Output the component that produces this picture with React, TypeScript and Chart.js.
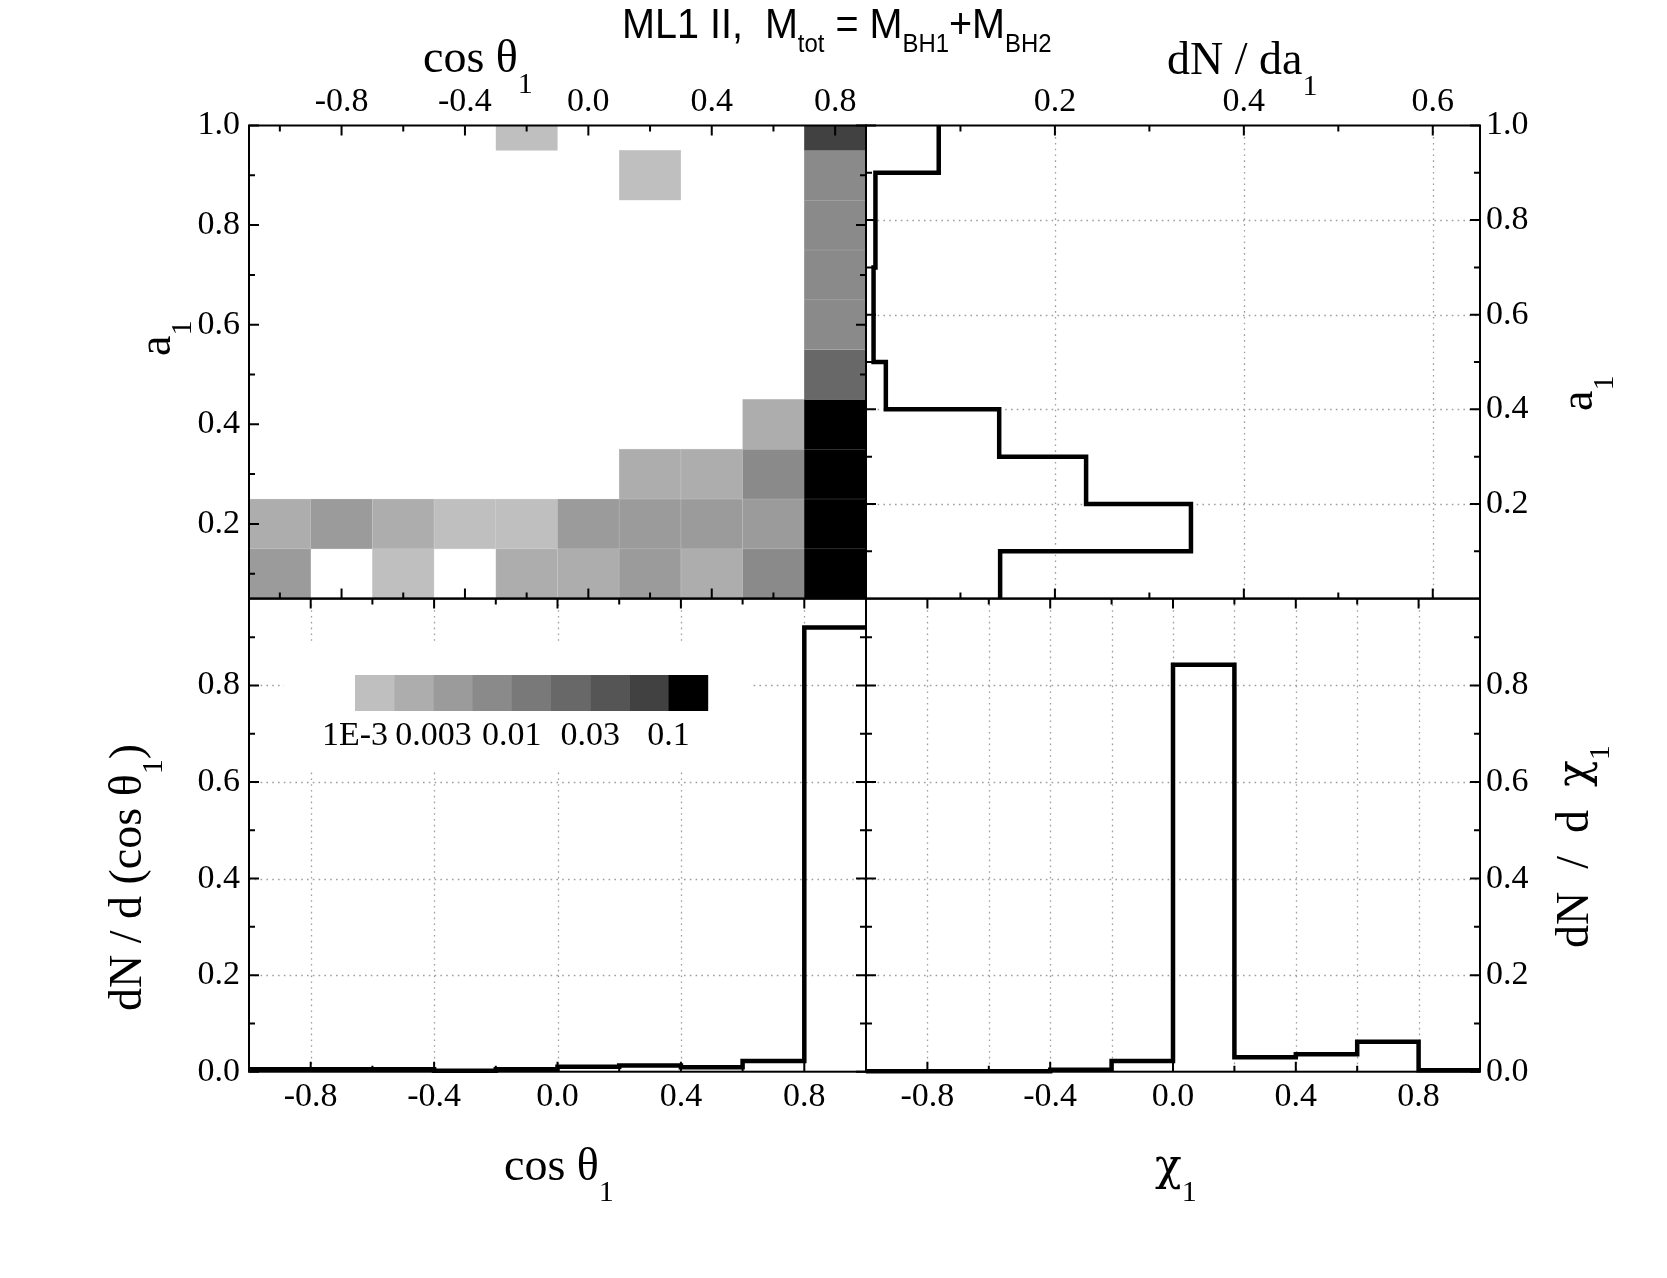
import React, { useEffect, useRef } from 'react';
import { Chart, registerables } from 'chart.js';

Chart.register(...registerables);

// ---------------- data ----------------
// heat map: cell centres
const cosCenters = [-1.0, -0.8, -0.6, -0.4, -0.2, 0.0, 0.2, 0.4, 0.6, 0.8];
const a1Centers = [0.1, 0.2, 0.3, 0.4, 0.5, 0.6, 0.7, 0.8, 0.9, 1.0];
// fraction of systems per cell, rows follow a1Centers, columns follow cosCenters
const heatRow01 = [0.004, 0, 0.0013, 0, 0.0024, 0.0024, 0.004, 0.0024, 0.0075, 0.2];
const heatRow02 = [0.0024, 0.004, 0.0024, 0.0013, 0.0013, 0.004, 0.004, 0.004, 0.004, 0.2];
const heatRow03 = [0, 0, 0, 0, 0, 0, 0.0024, 0.0024, 0.0075, 0.2];
const heatRow04 = [0, 0, 0, 0, 0, 0, 0, 0, 0.0024, 0.15];
const heatRow05 = [0, 0, 0, 0, 0, 0, 0, 0, 0, 0.024];
const heatRow06 = [0, 0, 0, 0, 0, 0, 0, 0, 0, 0.0075];
const heatRow07 = [0, 0, 0, 0, 0, 0, 0, 0, 0, 0.0075];
const heatRow08 = [0, 0, 0, 0, 0, 0, 0, 0, 0, 0.0075];
const heatRow09 = [0, 0, 0, 0, 0, 0, 0.0013, 0, 0, 0.0075];
const heatRow10 = [0, 0, 0, 0, 0.0013, 0, 0, 0, 0, 0.075];
const heatValues = [heatRow01, heatRow02, heatRow03, heatRow04, heatRow05, heatRow06, heatRow07, heatRow08, heatRow09, heatRow10];

// colour scale
const colorBounds = [0.001, 0.00178, 0.00316, 0.00562, 0.01, 0.0178, 0.0316, 0.0562, 0.1];
const grayLevels = ['#bfbfbf', '#adadad', '#9b9b9b', '#8a8a8a', '#797979', '#686868', '#555555', '#414141', '#000000'];
const colorbarLabels = ['1E-3', '0.003', '0.01', '0.03', '0.1'];
const colorbarLabelSlots = [0, 2, 4, 6, 8];

// dN/da1 histogram
const a1Edges = [0, 0.1, 0.2, 0.3, 0.4, 0.5, 0.6, 0.7, 0.8, 0.9, 1.0];
const dNda1 = [0.142, 0.344, 0.233, 0.141, 0.021, 0.008, 0.008, 0.010, 0.010, 0.077];

// dN/d(cos theta1) histogram
const cosEdges = [-1.0, -0.8, -0.6, -0.4, -0.2, 0.0, 0.2, 0.4, 0.6, 0.8, 1.0];
const dNdcos = [0.005, 0.005, 0.005, 0.002, 0.005, 0.010, 0.013, 0.009, 0.022, 0.920];

// dN/d chi1 histogram
const chiEdges = [-1.0, -0.8, -0.6, -0.4, -0.2, 0.0, 0.2, 0.4, 0.6, 0.8, 1.0];
const dNdchi = [0.001, 0.001, 0.001, 0.004, 0.022, 0.843, 0.030, 0.036, 0.062, 0.003];

// tick values
const cosTopMajor = [-0.8, -0.4, 0, 0.4, 0.8];
const cosTopMinor = [-1.0, -0.6, -0.2, 0.2, 0.6];
const a1Major = [0.2, 0.4, 0.6, 0.8, 1.0];
const a1Minor = [0.1, 0.3, 0.5, 0.7, 0.9];
const dNda1Major = [0.2, 0.4, 0.6];
const dNda1Minor = [0.1, 0.3, 0.5];
const xBottomMajor = [-0.8, -0.4, 0, 0.4, 0.8];
const xBottomMinor = [-0.6, -0.2, 0.2, 0.6];
const dNMajor = [0, 0.2, 0.4, 0.6, 0.8];
const dNMinor = [0.1, 0.3, 0.5, 0.7, 0.9];
const gridDN = [0.2, 0.4, 0.6, 0.8];
const gridChiX = [-0.8, -0.6, -0.4, -0.2, 0, 0.2, 0.4, 0.6, 0.8];

// ---------------- layout ----------------
const SERIF = "'Liberation Serif', 'Times New Roman', serif";
const GREEK = "'DejaVu Serif', 'Liberation Serif', serif";
const SANS = "'Liberation Sans', Arial, sans-serif";
const TICK_FONT = { family: SERIF, size: 34 };
const W = 1667, H = 1278;
const XL = 249, XM = 866, XR = 1480;
const YT = 125.5, YM = 598.6, YB = 1071.7;
const AXW = 120, AXH = 60;

function levelFor(v: number) {
  let idx = -1;
  colorBounds.forEach((b, i) => { if (v >= b) idx = i; });
  return idx;
}
function grayFor(v: number) {
  const idx = levelFor(v);
  return idx < 0 ? 'rgba(0,0,0,0)' : grayLevels[idx];
}
function seamFor(v: number) {
  const idx = levelFor(v);
  if (idx < 0) return 'rgba(0,0,0,0)';
  const g = parseInt(grayLevels[idx].slice(1, 3), 16);
  const m = Math.round(g + (255 - g) * 0.3);
  return `rgb(${m},${m},${m})`;
}

function linAxis(position: string, min: number, max: number, labels: number[], pad: number) {
  const horiz = position === 'top' || position === 'bottom';
  return {
    type: 'linear', position, min, max, offset: false,
    grid: { display: false, drawTicks: false },
    border: { display: false },
    afterFit: (s: any) => { if (horiz) s.height = AXH; else s.width = AXW; },
    afterBuildTicks: (s: any) => { s.ticks = labels.map((v) => ({ value: v })); },
    ticks: {
      autoSkip: false, maxRotation: 0, minRotation: 0, padding: pad, color: '#000', font: TICK_FONT,
      callback: (v: any) => Number(v).toFixed(1),
    },
  };
}

type Part = { t: string; sub?: boolean; size?: number; fam?: string };
function rich(ctx: CanvasRenderingContext2D, parts: Part[], x: number, y: number,
  o: { fam: string; size: number; sub: number; dy: number; rot?: boolean; sx?: number }) {
  ctx.save();
  ctx.translate(x, y);
  if (o.rot) ctx.rotate(-Math.PI / 2);
  if (o.sx) ctx.scale(o.sx, 1);
  ctx.fillStyle = '#000';
  ctx.textAlign = 'left';
  ctx.textBaseline = 'alphabetic';
  let cx = 0;
  parts.forEach((p) => {
    ctx.font = `${p.size ? p.size : p.sub ? o.sub : o.size}px ${p.fam ? p.fam : o.fam}`;
    ctx.fillText(p.t, cx, p.sub ? o.dy : 0);
    cx += ctx.measureText(p.t).width;
  });
  ctx.restore();
}

type Spec = {
  xMajor: number[]; xMinor: number[]; yMajor: number[]; yMinor: number[];
  gridX: number[]; gridY: number[]; before?: (c: any) => void; after?: (c: any) => void;
};
function decor(spec: Spec) {
  return {
    id: 'decor',
    beforeDatasetsDraw(chart: any) {
      const { ctx, chartArea: a } = chart;
      const xs = chart.scales.x, ys = chart.scales.y;
      ctx.save();
      ctx.beginPath();
      ctx.rect(a.left, a.top, a.right - a.left, a.bottom - a.top);
      ctx.clip();
      ctx.strokeStyle = '#9e9e9e';
      ctx.lineWidth = 1.3;
      ctx.setLineDash([1.6, 4.2]);
      ctx.beginPath();
      spec.gridX.forEach((v) => { const p = Math.round(xs.getPixelForValue(v)) + 0.5; ctx.moveTo(p, a.top); ctx.lineTo(p, a.bottom); });
      spec.gridY.forEach((v) => { const p = Math.round(ys.getPixelForValue(v)) + 0.5; ctx.moveTo(a.left, p); ctx.lineTo(a.right, p); });
      ctx.stroke();
      ctx.restore();
      if (spec.before) spec.before(chart);
    },
    afterDatasetsDraw(chart: any) {
      const { ctx, chartArea: a } = chart;
      const xs = chart.scales.x, ys = chart.scales.y;
      ctx.save();
      ctx.strokeStyle = '#000';
      ctx.lineWidth = 2;
      ctx.setLineDash([]);
      ctx.beginPath();
      const tx = (vals: number[], len: number) => vals.forEach((v) => {
        const p = xs.getPixelForValue(v);
        ctx.moveTo(p, a.top); ctx.lineTo(p, a.top + len);
        ctx.moveTo(p, a.bottom); ctx.lineTo(p, a.bottom - len);
      });
      const ty = (vals: number[], len: number) => vals.forEach((v) => {
        const p = ys.getPixelForValue(v);
        ctx.moveTo(a.left, p); ctx.lineTo(a.left + len, p);
        ctx.moveTo(a.right, p); ctx.lineTo(a.right - len, p);
      });
      tx(spec.xMajor, 10); tx(spec.xMinor, 6);
      ty(spec.yMajor, 10); ty(spec.yMinor, 6);
      ctx.stroke();
      ctx.strokeRect(a.left, a.top, a.right - a.left, a.bottom - a.top);
      ctx.restore();
      if (spec.after) spec.after(chart);
    },
  };
}

function baseOpts(padding: any, scales: any) {
  return {
    responsive: false, animation: false, devicePixelRatio: 1, events: [],
    layout: { padding },
    plugins: { legend: { display: false }, tooltip: { enabled: false }, title: { display: false } },
    scales,
  };
}

function stepLine(pts: any[], stepped: string) {
  return {
    type: 'line', data: pts, borderColor: '#000', borderWidth: 4.5, pointRadius: 0,
    stepped, fill: false, clip: false, tension: 0, borderJoinStyle: 'miter', borderCapStyle: 'butt',
  };
}

const SUB = { fam: SERIF, size: 46, sub: 30, dy: 21 };

const titlesPlugin = {
  id: 'pageTitles',
  afterDraw(chart: any) {
    const ctx = chart.ctx;
    rich(ctx, [{ t: 'ML1 II,  M' }, { t: 'tot', sub: true }, { t: ' = M' }, { t: 'BH1', sub: true }, { t: '+M' }, { t: 'BH2', sub: true }],
      622, 38, { fam: SANS, size: 43, sub: 26, dy: 14, sx: 0.92 });
    rich(ctx, [{ t: 'cos θ' }, { t: '1', sub: true }], 423, 72, SUB);
    rich(ctx, [{ t: 'dN / da' }, { t: '1', sub: true }], 1167, 74, SUB);
    rich(ctx, [{ t: 'a' }, { t: '1', sub: true }], 170, 356, { ...SUB, rot: true });
    rich(ctx, [{ t: 'dN / d (cos θ' }, { t: '1', sub: true }, { t: ')' }], 141, 1011, { ...SUB, rot: true });
    rich(ctx, [{ t: 'a' }, { t: '1', sub: true }], 1592, 411, { ...SUB, rot: true });
    rich(ctx, [{ t: 'dN  /  d  ' }, { t: 'χ', size: 44, fam: GREEK }, { t: '1', sub: true }], 1588, 948, { ...SUB, rot: true });
    rich(ctx, [{ t: 'cos θ' }, { t: '1', sub: true }], 504, 1180, SUB);
    rich(ctx, [{ t: 'χ', size: 44, fam: GREEK }, { t: '1', sub: true }], 1155, 1180, SUB);
  },
};

function drawColorbar(chart: any) {
  const ctx = chart.ctx;
  const x0 = 355, y0 = 675, sw = 39.2, sh = 36;
  ctx.save();
  ctx.fillStyle = '#fff';
  ctx.fillRect(284, 643, 468, 129);
  grayLevels.forEach((c, i) => {
    ctx.fillStyle = c;
    ctx.fillRect(x0 + i * sw, y0, sw + 0.4, sh);
  });
  ctx.fillStyle = '#000';
  ctx.font = `34px ${SERIF}`;
  ctx.textAlign = 'center';
  ctx.textBaseline = 'alphabetic';
  colorbarLabels.forEach((t, i) => ctx.fillText(t, x0 + colorbarLabelSlots[i] * sw, 745));
  ctx.restore();
}

function heatConfig(): any {
  const half = (cosCenters[1] - cosCenters[0]) / 2;
  const halfA = (a1Centers[1] - a1Centers[0]) / 2;
  const cells: any[] = [];
  a1Centers.forEach((a, r) => cosCenters.forEach((c, k) => {
    const v = heatValues[r][k];
    if (v > 0) cells.push({ x: c, y: [a - halfA, a + halfA], v });
  }));
  return {
    type: 'bar',
    data: {
      datasets: [{
        data: cells,
        backgroundColor: (c: any) => grayFor(c.raw ? c.raw.v : 0),
        borderColor: (c: any) => seamFor(c.raw ? c.raw.v : 0),
        borderWidth: 0.6, borderSkipped: false, barPercentage: 1, categoryPercentage: 1, grouped: false,
      }],
    },
    options: baseOpts(
      { left: XL - AXW, top: YT - AXH, right: W - XM, bottom: H - YM },
      {
        x: linAxis('top', cosCenters[0] - half, cosCenters[cosCenters.length - 1] + half, cosTopMajor, 3),
        y: linAxis('left', a1Centers[0] - halfA, a1Centers[a1Centers.length - 1], a1Major, 9),
      }),
    plugins: [decor({ xMajor: cosTopMajor, xMinor: cosTopMinor, yMajor: a1Major, yMinor: a1Minor, gridX: [], gridY: [] })],
  };
}

function a1Config(): any {
  const pts = dNda1.map((v, i) => ({ x: v, y: a1Edges[i] }));
  pts.push({ x: dNda1[dNda1.length - 1], y: a1Edges[a1Edges.length - 1] });
  return {
    type: 'line',
    data: { datasets: [stepLine(pts, 'after')] },
    options: baseOpts(
      { left: XM, top: YT - AXH, right: W - XR - AXW, bottom: H - YM },
      {
        x: linAxis('top', 0, 0.65, dNda1Major, 3),
        y: linAxis('right', 0, 1, a1Major, 6),
      }),
    plugins: [decor({ xMajor: dNda1Major, xMinor: dNda1Minor, yMajor: a1Major, yMinor: a1Minor, gridX: dNda1Major, gridY: gridDN })],
  };
}

function histConfig(edges: number[], vals: number[], yPos: string, gridX: number[], extra?: any): any {
  const pts = vals.map((v, i) => ({ x: edges[i], y: v }));
  pts.push({ x: edges[edges.length - 1], y: vals[vals.length - 1] });
  const left = yPos === 'left';
  return {
    type: 'line',
    data: { datasets: [stepLine(pts, 'before')] },
    options: baseOpts(
      left ? { left: XL - AXW, top: YM, right: W - XM, bottom: H - YB - AXH }
        : { left: XM, top: YM, right: W - XR - AXW, bottom: H - YB - AXH },
      {
        x: linAxis('bottom', edges[0], edges[edges.length - 1], xBottomMajor, 5),
        y: linAxis(yPos, 0, 0.98, dNMajor, left ? 9 : 6),
      }),
    plugins: [decor({ xMajor: xBottomMajor, xMinor: xBottomMinor, yMajor: dNMajor, yMinor: dNMinor, gridX, gridY: gridDN, before: extra }),
      ...(left ? [] : [titlesPlugin])],
  };
}

export default function App() {
  const r1 = useRef<HTMLCanvasElement>(null);
  const r2 = useRef<HTMLCanvasElement>(null);
  const r3 = useRef<HTMLCanvasElement>(null);
  const r4 = useRef<HTMLCanvasElement>(null);
  useEffect(() => {
    const charts = [
      new Chart(r1.current as HTMLCanvasElement, heatConfig()),
      new Chart(r2.current as HTMLCanvasElement, a1Config()),
      new Chart(r3.current as HTMLCanvasElement, histConfig(cosEdges, dNdcos, 'left', xBottomMajor, drawColorbar)),
      new Chart(r4.current as HTMLCanvasElement, histConfig(chiEdges, dNdchi, 'right', gridChiX)),
    ];
    return () => charts.forEach((c) => c.destroy());
  }, []);
  const st: React.CSSProperties = { position: 'absolute', left: 0, top: 0, width: W, height: H };
  return (
    <div style={{ position: 'absolute', left: 0, top: 0, width: W, height: H, background: '#fff' }}>
      <canvas ref={r1} width={W} height={H} style={st} />
      <canvas ref={r2} width={W} height={H} style={st} />
      <canvas ref={r3} width={W} height={H} style={st} />
      <canvas ref={r4} width={W} height={H} style={st} />
    </div>
  );
}
